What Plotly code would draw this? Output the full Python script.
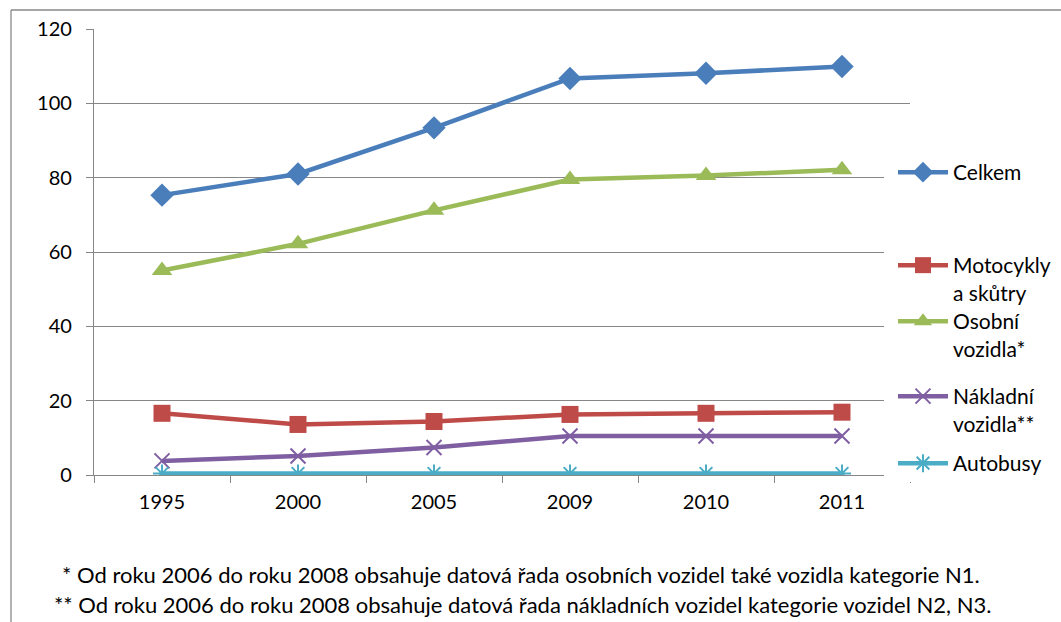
import plotly.graph_objects as go

# Data: number of registered vehicles (in hundred thousands) by category
years = ["1995", "2000", "2005", "2009", "2010", "2011"]
celkem = [75.3, 81.0, 93.4, 106.7, 108.1, 109.9]
motocykly = [16.6, 13.6, 14.4, 16.3, 16.6, 16.9]
osobni = [55.0, 62.2, 71.2, 79.5, 80.6, 82.1]
nakladni = [3.8, 5.1, 7.4, 10.5, 10.5, 10.5]
autobusy = [0.4, 0.4, 0.4, 0.4, 0.4, 0.4]

series_names = ["Celkem", "Motocykly<br>a skůtry", "Osobní<br>vozidla*",
                "Nákladní<br>vozidla**", "Autobusy"]
y_ticks = [0, 20, 40, 60, 80, 100, 120]
footnotes = [
    "* Od roku 2006 do roku 2008 obsahuje datová řada osobních vozidel také vozidla kategorie N1.",
    "** Od roku 2006 do roku 2008 obsahuje datová řada nákladních vozidel kategorie vozidel N2, N3.",
]

FONT = "Lato, 'Noto Sans', sans-serif"
W, H = 1061, 622
L, R, T, B = 94, 910, 29, 475  # plot area in pixels


def px_x(x):
    return (x - L) / (R - L)


def px_y(y):
    return (B - y) / (B - T)


styles = [
    dict(color="#4A7EBB", symbol="diamond", size=18, lw=0),
    dict(color="#BE4B48", symbol="square", size=17, lw=0),
    dict(color="#9BBB59", symbol="triangle-up", size=18, lw=0),
    dict(color="#7F5FA2", symbol="x-thin", size=15, lw=2),
    dict(color="#4BACC6", symbol="asterisk", size=15, lw=2),
]
values = [celkem, motocykly, osobni, nakladni, autobusy]
legend_ids = ["legend", "legend2", "legend3", "legend4", "legend5"]
legend_y = [167, 260, 316, 391, 458]

fig = go.Figure()
for name, vals, st, lg in zip(series_names, values, styles, legend_ids):
    fig.add_trace(go.Scatter(
        x=years, y=vals, name=name, mode="lines+markers",
        line=dict(color=st["color"], width=4.5),
        marker=dict(symbol=st["symbol"], size=st["size"], color=st["color"],
                    line=dict(color=st["color"], width=st["lw"])),
        legend=lg,
    ))

layout_legends = {}
for lg, yp in zip(legend_ids, legend_y):
    layout_legends[lg] = dict(
        xref="container", yref="container",
        x=893 / W, xanchor="left",
        y=1 - (yp - 15) / H, yanchor="top", valign="top",
        bgcolor="rgba(0,0,0,0)", borderwidth=0,
        font=dict(family=FONT, size=21, color="#000000"),
        itemwidth=50, tracegroupgap=0,
    )

annotations = []
for txt, yp, xp in zip(footnotes, [574, 604], [60, 52]):
    annotations.append(dict(
        text=txt, xref="paper", yref="paper", x=px_x(xp), y=px_y(yp),
        xanchor="left", yanchor="middle", showarrow=False,
        font=dict(family=FONT, size=22, color="#000000"),
    ))

shapes = [
    # outer chart frame (left and top edges)
    dict(type="line", xref="paper", yref="paper", x0=px_x(11), x1=px_x(11),
         y0=px_y(10), y1=px_y(640), line=dict(color="#898989", width=1.3)),
    dict(type="line", xref="paper", yref="paper", x0=px_x(11), x1=px_x(1070),
         y0=px_y(10), y1=px_y(10), line=dict(color="#898989", width=1.3)),
    # legend area background
    dict(type="rect", xref="paper", yref="paper", x0=px_x(884), x1=px_x(913),
         y0=px_y(140), y1=px_y(482), fillcolor="white", line=dict(width=0),
         layer="above"),
]

fig.update_layout(
    width=W, height=H,
    margin=dict(l=L, r=W - R, t=T, b=H - B, pad=0, autoexpand=False),
    paper_bgcolor="white", plot_bgcolor="white",
    font=dict(family=FONT, size=20, color="#000000"),
    showlegend=True,
    annotations=annotations,
    shapes=shapes,
    **layout_legends,
)
fig.update_xaxes(
    type="category", range=[-0.5, 5.5], showgrid=False, showline=True,
    linecolor="#868686", linewidth=1.3, ticks="outside", tickson="boundaries",
    ticklen=7, tickcolor="#868686", tickwidth=1.3,
    tickfont=dict(family=FONT, size=20, color="#000000"), fixedrange=True,
    ticklabelstandoff=9,
)
fig.update_yaxes(
    range=[0, 120], tickvals=y_ticks, showgrid=True, gridcolor="#868686",
    gridwidth=1.3, showline=True, linecolor="#868686", linewidth=1.3,
    ticks="outside", ticklen=7, tickcolor="#868686", tickwidth=1.3,
    zeroline=False, tickfont=dict(family=FONT, size=20, color="#000000"),
    ticklabelstandoff=10,
)

fig.write_html("out.html")
